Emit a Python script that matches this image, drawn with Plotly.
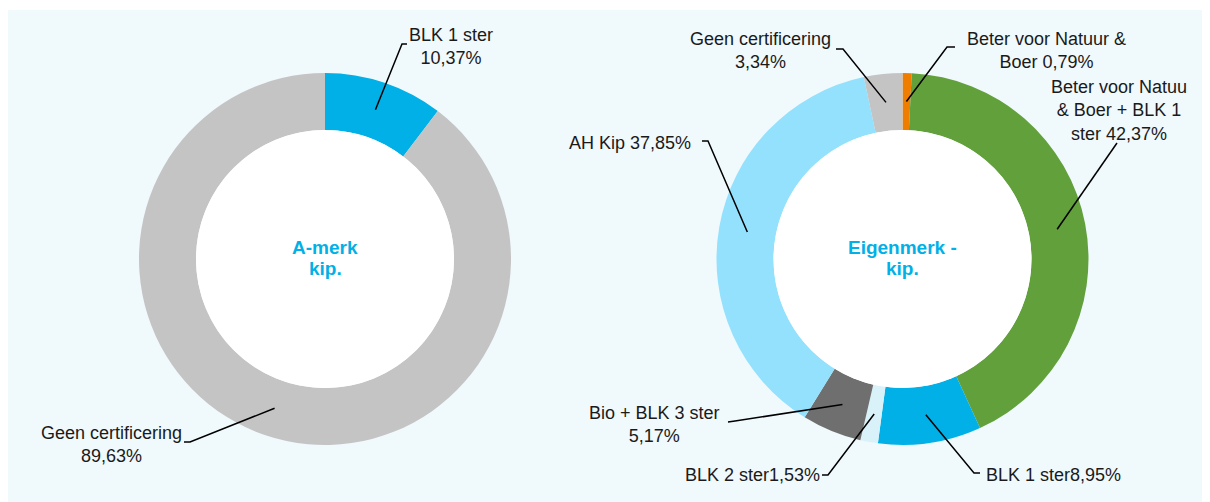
import math
import plotly.graph_objects as go

W, H = 1210, 502
OFF = 8  # browser body margin offset of the figure on the page

# ---------------- data ----------------
a_labels = ["BLK 1 ster", "Geen certificering"]
a_values = [10.37, 89.63]
a_texts = ["BLK 1 ster<br>10,37%", "Geen certificering<br>89,63%"]
a_title = ["A-merk", "kip."]

e_labels = ["Beter voor Natuur & Boer", "Beter voor Natuur & Boer + BLK 1 ster",
            "BLK 1 ster", "BLK 2 ster", "Bio + BLK 3 ster", "AH Kip", "Geen certificering"]
e_values = [0.79, 42.37, 8.95, 1.53, 5.17, 37.85, 3.34]
e_texts = ["Beter voor Natuur &<br>Boer 0,79%",
           "Beter voor Natuu<br>& Boer + BLK 1<br>ster 42,37%",
           "BLK 1 ster8,95%",
           "BLK 2 ster1,53%",
           "Bio + BLK 3 ster<br>5,17%",
           "AH Kip 37,85%",
           "Geen certificering<br>3,34%"]
e_title = ["Eigenmerk -", "kip."]

# ---------------- styles / layout ----------------
a_colors = ["#00b0e6", "#c4c4c4"]
e_colors = ["#ef7d00", "#62a03c", "#00b0e6", "#d9f2fa", "#6f6f6f", "#93e1fd", "#c4c4c4"]
BG = "#f0f9fc"

R_OUT, R_IN = 186, 129
a_center = (325, 259)
e_center = (902.5, 259)

# label placement (screen pixels): text position, text anchor, tick start, elbow
a_place = [
    dict(tx=451, ty=46, xa="center", p0=(407, 44), p1=(402, 44)),
    dict(tx=111, ty=444, xa="center", p0=(184, 442), p1=(190, 442)),
]
e_place = [
    dict(tx=1046, ty=50, xa="center", p0=(955, 47), p1=(947, 47)),
    dict(tx=1119, ty=110, xa="center", p0=(1117, 143), p1=(1117, 143)),
    dict(tx=984, ty=475, xa="left", p0=(980, 473), p1=(974, 473)),
    dict(tx=822, ty=475, xa="right", p0=(822, 475), p1=(828, 475)),
    dict(tx=654, ty=424, xa="center", p0=(728, 422), p1=(735, 421)),
    dict(tx=693, ty=143, xa="right", p0=(702, 141), p1=(708, 141)),
    dict(tx=760, ty=50, xa="center", p0=(836, 49), p1=(843, 49)),
]

LABEL_FONT = dict(family="Liberation Sans, Arial, sans-serif", size=18, color="#1a1a1a")
TITLE_FONT = dict(family="Liberation Sans, Arial, sans-serif", size=19, color="#00b0e6")


def px(x):
    return (x - OFF) / W


def py(y):
    return 1 - (y - OFF) / H


def domain(center):
    cx, cy = center
    return dict(x=[px(cx - R_OUT), px(cx + R_OUT)], y=[py(cy + R_OUT), py(cy - R_OUT)])


def anchors(values, center):
    cx, cy = center
    total = sum(values)
    r = (R_OUT + R_IN) / 2
    out, cum = [], 0.0
    for v in values:
        mid = (cum + v / 2) / total * 2 * math.pi
        out.append((cx + r * math.sin(mid), cy - r * math.cos(mid)))
        cum += v
    return out


fig = go.Figure()
for labels, values, colors, center in [(a_labels, a_values, a_colors, a_center),
                                       (e_labels, e_values, e_colors, e_center)]:
    fig.add_trace(go.Pie(
        labels=labels, values=values, sort=False, direction="clockwise", rotation=0,
        hole=R_IN / R_OUT, textinfo="none", hoverinfo="label+percent",
        marker=dict(colors=colors, line=dict(width=0)),
        domain=domain(center), showlegend=False,
    ))

# white strip on top, rest of the page is light blue
shapes = [dict(type="rect", xref="paper", yref="paper", x0=0, x1=1, y0=py(10), y1=1,
               fillcolor="white", line=dict(width=0), layer="below")]
annotations = []

for center, title in [(a_center, a_title), (e_center, e_title)]:
    cx, cy = center
    shapes.append(dict(type="circle", xref="paper", yref="paper",
                       x0=px(cx - R_IN), x1=px(cx + R_IN), y0=py(cy + R_IN), y1=py(cy - R_IN),
                       fillcolor="white", line=dict(width=0), layer="above"))
    for i, line in enumerate(title):
        annotations.append(dict(text="<b>%s</b>" % line, x=px(cx), y=py(cy - 12 + 21 * i),
                                xref="paper", yref="paper", showarrow=False,
                                xanchor="center", yanchor="middle", font=TITLE_FONT))

for values, texts, place, center in [(a_values, a_texts, a_place, a_center),
                                     (e_values, e_texts, e_place, e_center)]:
    for (ax, ay), txt, pl in zip(anchors(values, center), texts, place):
        annotations.append(dict(text=txt, x=px(pl["tx"]), y=py(pl["ty"]), xref="paper", yref="paper",
                                showarrow=False, xanchor=pl["xa"], yanchor="middle",
                                align="center", font=LABEL_FONT))
        (x0, y0), (x1, y1) = pl["p0"], pl["p1"]
        path = "M %f,%f L %f,%f L %f,%f" % (px(x0), py(y0), px(x1), py(y1), px(ax), py(ay))
        shapes.append(dict(type="path", xref="paper", yref="paper", path=path,
                           line=dict(color="black", width=1.5), layer="above"))

fig.update_layout(
    width=W, height=H, margin=dict(l=0, r=0, t=0, b=0),
    paper_bgcolor=BG, plot_bgcolor=BG,
    shapes=shapes, annotations=annotations, showlegend=False,
)

fig.write_html("out.html")
